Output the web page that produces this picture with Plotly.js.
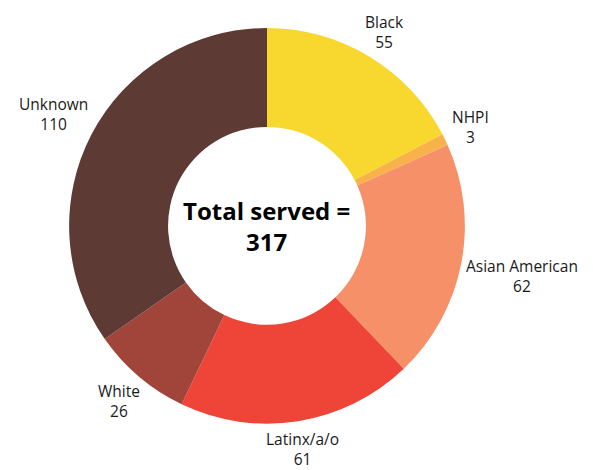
<!DOCTYPE html>
<html>
<head>
<meta charset="utf-8">
<script src="https://cdn.plot.ly/plotly-3.0.1.min.js"></script>
<style>html,body{margin:0;padding:0;background:#fff;}#chart{width:593px;height:470px;}</style>
</head>
<body>
<div id="chart"></div>
<script>
const categories = ["Black", "NHPI", "Asian American", "Latinx/a/o", "White", "Unknown"];
const values = [55, 3, 62, 61, 26, 110];
const colors = ["#F8D82F", "#F7B24A", "#F69068", "#EE4538", "#A1453A", "#5E3A34"];
const total = values.reduce((a, b) => a + b, 0);

const W = 593, H = 470;
const dom = { x: [0.1164, 0.7841], y: [0.0985, 0.9405] };
const labelFont = { family: "Open Sans, sans-serif", size: 15.5, color: "#1a1a1a", weight: 500 };

const trace = {
  type: "pie",
  labels: categories,
  values: values,
  sort: false,
  direction: "clockwise",
  rotation: 0,
  hole: 0.5,
  marker: { colors: colors, line: { color: "#ffffff", width: 0 } },
  textinfo: "none",
  showlegend: false,
  domain: dom
};

// outside labels centred on the radial direction of each slice
const cx = W * (dom.x[0] + dom.x[1]) / 2;
const cy = H * (1 - (dom.y[0] + dom.y[1]) / 2);
const R = Math.min(W * (dom.x[1] - dom.x[0]), H * (dom.y[1] - dom.y[0])) / 2;
const gap = 4;
const ctx = document.createElement("canvas").getContext("2d");
ctx.font = "500 " + labelFont.size + "px " + labelFont.family;
const lineH = labelFont.size * 1.3;

const annotations = [];
let cum = 0;
categories.forEach((cat, i) => {
  const mid = (cum + values[i] / 2) / total * 2 * Math.PI;
  cum += values[i];
  const s = Math.sin(mid), c = Math.cos(mid);
  const w = Math.max(ctx.measureText(cat).width, ctx.measureText(String(values[i])).width);
  const hh = lineH * 0.9;
  const dist = R + gap + Math.abs(s) * w / 2 + Math.abs(c) * hh;
  const px = cx + s * dist, py = cy - c * dist;
  annotations.push({
    text: cat + "<br>" + values[i],
    x: px / W, y: 1 - py / H, xref: "paper", yref: "paper",
    showarrow: false, xanchor: "center", yanchor: "middle", borderpad: 0,
    font: labelFont
  });
});

annotations.push({
  text: "<b>Total served =<br>" + total + "</b>",
  x: cx / W, y: 1 - cy / H,
  xref: "paper", yref: "paper", showarrow: false,
  font: { family: "Open Sans, sans-serif", size: 24, color: "#000000" },
  xanchor: "center", yanchor: "middle"
});

const layout = {
  width: W, height: H,
  margin: { l: 0, r: 0, t: 0, b: 0 },
  paper_bgcolor: "#ffffff",
  showlegend: false,
  annotations: annotations
};

Plotly.newPlot("chart", [trace], layout, { displayModeBar: false, staticPlot: true });
</script>
</body>
</html>
